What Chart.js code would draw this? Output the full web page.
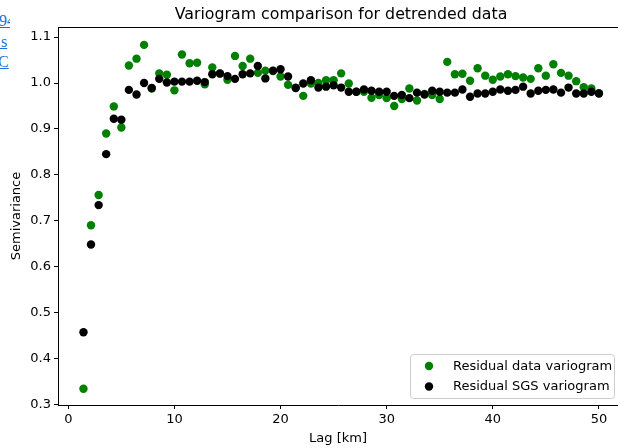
<!DOCTYPE html>
<html>
<head>
<meta charset="utf-8">
<script src="https://cdn.jsdelivr.net/npm/chart.js@4.4.1/dist/chart.umd.min.js"></script>
<style>
  html, body { margin: 0; padding: 0; background: #fff; overflow: hidden; }
  #wrap { position: relative; width: 618px; height: 448px; }
  #myChart { position: absolute; left: 0; top: 0; }
  #side { position: absolute; left: 0; top: 0; width: 10px; height: 80px; overflow: hidden;
          font-family: "Liberation Serif", "DejaVu Serif", serif; font-size: 16px; color: #1a6fd8; }
  #side div { position: absolute; white-space: nowrap; text-decoration: underline; }
</style>
</head>
<body>
<div id="wrap">
  <div id="side">
    <div style="left:-1px; top:12px;">94</div>
    <div style="left:-3px; top:33px;">&nbsp;s</div>
    <div style="left:-2px; top:53px;">C</div>
  </div>
  <canvas id="myChart" width="618" height="448"></canvas>
</div>
<script>
"use strict";
const lags = [1.43, 2.14, 2.86, 3.57, 4.29, 5.0, 5.71, 6.43, 7.14, 7.86,
    8.57, 9.29, 10.0, 10.71, 11.43, 12.14, 12.86, 13.57, 14.29, 15.0,
    15.71, 16.43, 17.14, 17.86, 18.57, 19.29, 20.0, 20.71, 21.43, 22.14,
    22.86, 23.57, 24.29, 25.0, 25.71, 26.43, 27.14, 27.86, 28.57, 29.29,
    30.0, 30.71, 31.43, 32.14, 32.86, 33.57, 34.29, 35.0, 35.71, 36.43,
    37.14, 37.86, 38.57, 39.29, 40.0, 40.71, 41.43, 42.14, 42.86, 43.57,
    44.29, 45.0, 45.71, 46.43, 47.14, 47.86, 48.57, 49.29, 50.0];
const dataVariogram = [0.334, 0.690, 0.756, 0.890, 0.949, 0.903, 1.038, 1.053, 1.083, 0.988,
    1.021, 1.018, 0.984, 1.062, 1.043, 1.044, 0.997, 1.034, 1.020, 1.007,
    1.059, 1.037, 1.053, 1.022, 1.027, 1.026, 1.014, 0.996, 0.990, 0.972,
    0.999, 1.000, 1.006, 1.006, 1.021, 0.999, 0.981, 0.981, 0.968, 0.974,
    0.967, 0.950, 0.965, 0.988, 0.962, 0.976, 0.974, 0.965, 1.046, 1.019,
    1.020, 1.005, 1.032, 1.016, 1.007, 1.014, 1.019, 1.015, 1.012, 1.009,
    1.032, 1.016, 1.041, 1.022, 1.016, 1.004, 0.991, 0.988, 0.978];
const sgsVariogram = [0.457, 0.648, 0.734, 0.845, 0.922, 0.920, 0.985, 0.975, 1.000, 0.989,
    1.009, 1.001, 1.003, 1.003, 1.003, 1.005, 1.002, 1.019, 1.021, 1.015,
    1.009, 1.019, 1.021, 1.037, 1.010, 1.027, 1.030, 1.014, 0.989, 0.999,
    1.006, 0.990, 0.992, 0.995, 0.990, 0.981, 0.981, 0.986, 0.983, 0.981,
    0.981, 0.972, 0.974, 0.967, 0.979, 0.975, 0.983, 0.981, 0.979, 0.979,
    0.986, 0.970, 0.977, 0.977, 0.981, 0.986, 0.983, 0.985, 0.992, 0.977,
    0.983, 0.985, 0.986, 0.979, 0.990, 0.977, 0.977, 0.981, 0.977];
const seriesNames = ["Residual data variogram", "Residual SGS variogram"];
const xTicks = [0, 10, 20, 30, 40, 50];
const yTicks = [0.3, 0.4, 0.5, 0.6, 0.7, 0.8, 0.9, 1.0, 1.1];
const chartTitle = "Variogram comparison for detrended data";

const FONT = "'DejaVu Sans', sans-serif";

function toPoints(xs, ys) {
    return xs.map((x, i) => ({ x: x, y: ys[i] }));
}

// top spine, title and the lower-right legend, matplotlib style
const decorations = {
    id: "decorations",
    afterDraw(chart) {
        const ctx = chart.ctx;
        const area = chart.chartArea;
        ctx.save();
        ctx.strokeStyle = "#000";
        ctx.lineWidth = 1;
        ctx.beginPath();
        ctx.moveTo(area.left, area.top + 0.5);
        ctx.lineTo(area.right, area.top + 0.5);
        ctx.stroke();

        ctx.fillStyle = "#000";
        ctx.font = "15.8px " + FONT;
        ctx.textAlign = "center";
        ctx.textBaseline = "middle";
        ctx.fillText(chartTitle, 341, 14.5);

        const bx = 410.5, by = 354.5, bw = 204, bh = 44;
        ctx.fillStyle = "rgba(255,255,255,0.8)";
        ctx.strokeStyle = "#cccccc";
        ctx.beginPath();
        ctx.roundRect(bx, by, bw, bh, 3);
        ctx.fill();
        ctx.stroke();
        ctx.font = "13px " + FONT;
        ctx.textAlign = "left";
        const rows = [366, 386.5];
        chart.data.datasets.forEach((ds, i) => {
            ctx.fillStyle = ds.backgroundColor;
            ctx.beginPath();
            ctx.arc(429, rows[i], 4.2, 0, Math.PI * 2);
            ctx.fill();
            ctx.fillStyle = "#000";
            ctx.fillText(ds.label, 453, rows[i] + 0.5);
        });
        ctx.restore();
    }
};

const ctx = document.querySelector("#myChart").getContext("2d");
const myChart = new Chart(ctx, {
    type: "scatter",
    data: {
        datasets: [{
            label: seriesNames[0],
            data: toPoints(lags, dataVariogram),
            backgroundColor: "#008000",
            pointRadius: 4.2,
            pointBorderWidth: 0,
            order: 1
        }, {
            label: seriesNames[1],
            data: toPoints(lags, sgsVariogram),
            backgroundColor: "#000000",
            pointRadius: 4.2,
            pointBorderWidth: 0,
            order: 0
        }]
    },
    options: {
        responsive: false,
        animation: false,
        devicePixelRatio: 1,
        events: [],
        layout: { autoPadding: false, padding: { top: 27, left: 0, right: 0, bottom: 0 } },
        plugins: {
            legend: { display: false },
            title: { display: false },
            tooltip: { enabled: false }
        },
        scales: {
            x: {
                type: "linear",
                min: -0.97,
                max: 51.8,
                afterBuildTicks: scale => { scale.ticks = xTicks.map(v => ({ value: v })); },
                afterFit: scale => {
                    scale.height = 43;
                    scale.paddingLeft = 0;
                    scale.paddingRight = 0;
                },
                grid: { drawOnChartArea: false, drawTicks: true, tickLength: 4, color: "#000" },
                border: { display: true, color: "#000", width: 1 },
                ticks: {
                    color: "#000",
                    padding: 3,
                    maxRotation: 0,
                    font: { family: FONT, size: 13 },
                    callback: v => String(v)
                },
                title: {
                    display: true,
                    text: "Lag [km]",
                    color: "#000",
                    font: { family: FONT, size: 13 },
                    padding: { top: 0, bottom: 2 }
                }
            },
            y: {
                type: "linear",
                min: 0.2985,
                max: 1.122,
                afterBuildTicks: scale => { scale.ticks = yTicks.map(v => ({ value: v })); },
                afterFit: scale => {
                    scale.width = 58;
                    scale.paddingTop = 0;
                    scale.paddingBottom = 0;
                },
                grid: { drawOnChartArea: false, drawTicks: true, tickLength: 4, color: "#000" },
                border: { display: true, color: "#000", width: 1 },
                ticks: {
                    color: "#000",
                    padding: 3,
                    font: { family: FONT, size: 13 },
                    callback: v => v.toFixed(1)
                },
                title: {
                    display: true,
                    text: "Semivariance",
                    color: "#000",
                    font: { family: FONT, size: 13 },
                    padding: { top: 9, bottom: 0 }
                }
            }
        }
    },
    plugins: [decorations]
});
</script>
</body>
</html>
